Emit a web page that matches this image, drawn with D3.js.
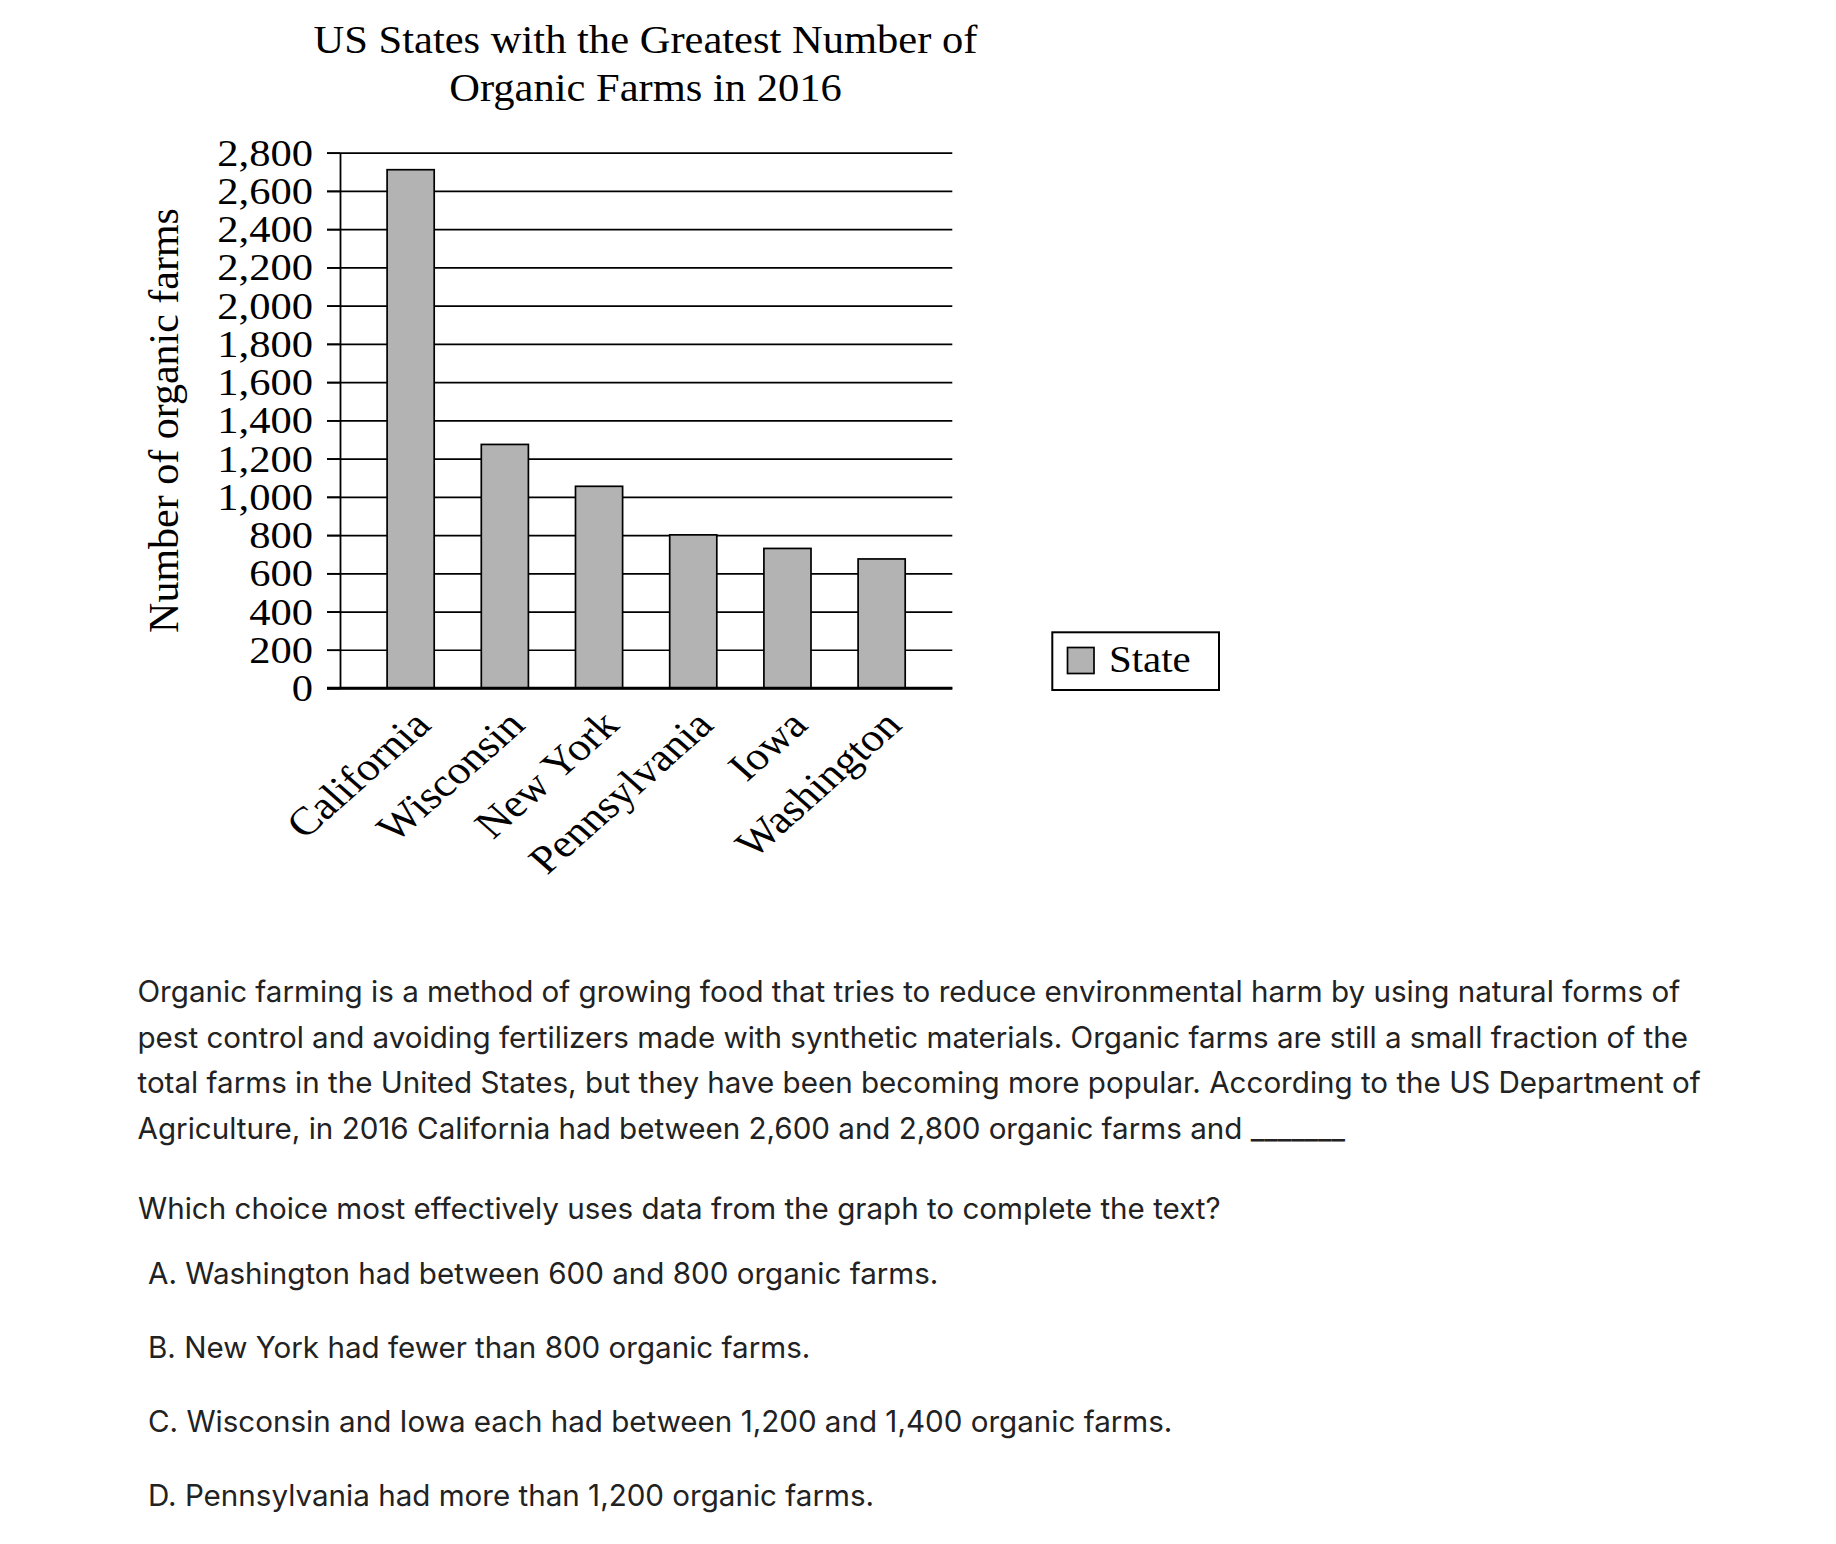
<!DOCTYPE html>
<html><head><meta charset="utf-8">
<script src="https://cdn.jsdelivr.net/npm/d3@7"></script>
<style>body{margin:0;background:#fff}svg{display:block}</style>
</head><body>
<svg id="c" width="1836" height="1544"></svg>
<script>
// ---------- data ----------
const states = ["California", "Wisconsin", "New York", "Pennsylvania", "Iowa", "Washington"];
const farms = [2711, 1274, 1055, 801, 730, 675];
const yTickValues = [0, 200, 400, 600, 800, 1000, 1200, 1400, 1600, 1800, 2000, 2200, 2400, 2600, 2800];
const titleLines = ["US States with the Greatest Number of", "Organic Farms in 2016"];
const yAxisTitle = "Number of organic farms";
const legendLabel = "State";
const passageLines = [
  "Organic farming is a method of growing food that tries to reduce environmental harm by using natural forms of",
  "pest control and avoiding fertilizers made with synthetic materials. Organic farms are still a small fraction of the",
  "total farms in the United States, but they have been becoming more popular. According to the US Department of",
  "Agriculture, in 2016 California had between 2,600 and 2,800 organic farms and _______"
];
const questionText = "Which choice most effectively uses data from the graph to complete the text?";
const answerChoices = [
  "A. Washington had between 600 and 800 organic farms.",
  "B. New York had fewer than 800 organic farms.",
  "C. Wisconsin and Iowa each had between 1,200 and 1,400 organic farms.",
  "D. Pennsylvania had more than 1,200 organic farms."
];

// ---------- layout ----------
const svg = d3.select("#c");
const serif = "'Liberation Serif','Times New Roman',Times,serif";
const sans = "Inter,'Noto Sans',Roboto,sans-serif";
const tfs = 40, tsx = 1.064;         // title
const fs = 37, sx = 1.15;            // tick labels
const xfs = 39.5, xsx = 1.13;        // rotated category labels
const plotL = 340, plotR = 952.3, plotT = 152.7, plotB = 688;
const gray = "#b3b3b3";

svg.append("rect").attr("width", 1836).attr("height", 1544).attr("fill", "#fff");

const x = d3.scaleBand().domain(states).range([plotL, plotR]).paddingInner(0.5).paddingOuter(0.5);
const y = d3.scaleLinear().domain([0, 2800]).range([plotB, plotT]);

// gridlines
const grid = svg.append("g").attr("transform", `translate(327,0)`)
  .call(d3.axisLeft(y).tickValues(yTickValues).tickSize(-(plotR - 327)).tickFormat(""));
grid.select(".domain").remove();
grid.selectAll(".tick line").attr("stroke", "#000").attr("stroke-width", d => d === 0 ? 2.4 : 1.7);

// y axis with labels
const yAx = svg.append("g").attr("transform", `translate(${plotL},0)`)
  .call(d3.axisLeft(y).tickValues(yTickValues).tickSizeInner(13).tickSizeOuter(0).tickFormat(d3.format(",")));
yAx.select(".domain").attr("stroke", "#000").attr("stroke-width", 1.8);
yAx.selectAll(".tick line").attr("stroke", "#000").attr("stroke-width", 1.7);
yAx.selectAll(".tick text")
  .attr("x", null).attr("dy", null)
  .attr("transform", `translate(${313 - plotL},12.5) scale(${sx},1)`)
  .attr("font-family", serif).attr("font-size", fs).attr("fill", "#000").attr("text-anchor", "end");

// bars
svg.append("g").selectAll("rect").data(states).join("rect")
  .attr("x", d => x(d)).attr("width", x.bandwidth())
  .attr("y", (d, i) => y(farms[i])).attr("height", (d, i) => y(0) - y(farms[i]))
  .attr("fill", gray).attr("stroke", "#000").attr("stroke-width", 1.7);

// redraw zero line on top
svg.append("line").attr("x1", 327).attr("x2", plotR).attr("y1", y(0)).attr("y2", y(0))
  .attr("stroke", "#000").attr("stroke-width", 2.4);

// x labels
const xAx = svg.append("g").attr("transform", `translate(0,${plotB})`)
  .call(d3.axisBottom(x).tickSize(0));
xAx.select(".domain").remove();
xAx.selectAll(".tick text")
  .attr("y", null).attr("dy", null)
  .attr("transform", `translate(22,39) scale(${xsx},1) rotate(-45)`)
  .attr("text-anchor", "end").attr("font-family", serif).attr("font-size", xfs).attr("fill", "#000");

// title
svg.append("g").selectAll("text").data(titleLines).join("text")
  .attr("transform", (d, i) => `translate(645.5,${52.5 + i * 48}) scale(${tsx},1)`)
  .attr("text-anchor", "middle").attr("font-family", serif).attr("font-size", tfs).attr("fill", "#000")
  .text(d => d);

// y axis title
svg.append("text").attr("transform", "translate(178,420.5) rotate(-90)")
  .attr("text-anchor", "middle").attr("font-family", serif).attr("font-size", 42).attr("fill", "#000")
  .text(yAxisTitle);

// legend
const lg = svg.append("g");
lg.append("rect").attr("x", 1052.3).attr("y", 632.3).attr("width", 166.7).attr("height", 57.7)
  .attr("fill", "#fff").attr("stroke", "#000").attr("stroke-width", 2);
lg.append("rect").attr("x", 1067.5).attr("y", 647.5).attr("width", 26.5).attr("height", 26)
  .attr("fill", gray).attr("stroke", "#000").attr("stroke-width", 1.7);
lg.append("text").attr("transform", `translate(1109,672) scale(1.09,1)`)
  .attr("font-family", serif).attr("font-size", 37.5).attr("fill", "#000").text(legendLabel);

// ---------- passage & question ----------
const probe = svg.append("text").attr("font-family", sans).attr("font-size", 100).text(passageLines[0]);
const w100 = probe.node().getComputedTextLength();
probe.remove();
const sfs = 100 * 1543 / w100;

svg.append("g").selectAll("text").data(passageLines).join("text")
  .attr("x", 137.5).attr("y", (d, i) => 1002 + i * 45.6)
  .attr("font-family", sans).attr("font-size", sfs).attr("fill", "#222").text(d => d);

svg.append("text").attr("x", 138).attr("y", 1218.5)
  .attr("font-family", sans).attr("font-size", sfs).attr("fill", "#222").text(questionText);

svg.append("g").selectAll("text").data(answerChoices).join("text")
  .attr("x", 148).attr("y", (d, i) => 1283.5 + i * 74)
  .attr("font-family", sans).attr("font-size", sfs).attr("fill", "#222").text(d => d);
</script>
</body></html>
